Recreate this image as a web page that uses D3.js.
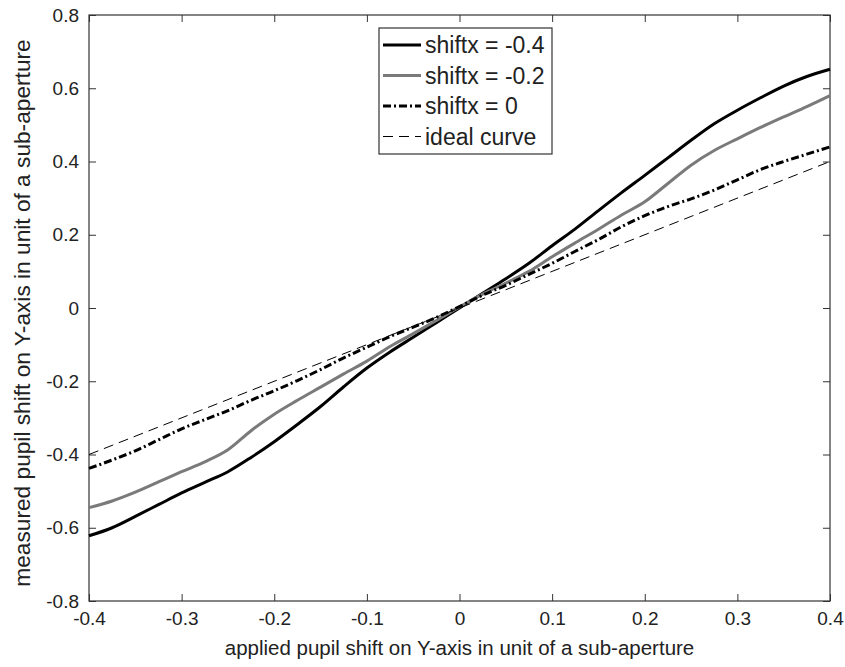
<!DOCTYPE html>
<html>
<head>
<meta charset="utf-8">
<script src="https://cdn.jsdelivr.net/npm/d3@7"></script>
<style>
  body { margin: 0; background: #fff; }
  text { font-family: "Liberation Sans", Arial, sans-serif; fill: #222; }
</style>
</head>
<body>
<div id="chart"></div>
<script>
// data
var xValues = [-0.4, -0.375, -0.35, -0.325, -0.3, -0.275, -0.25, -0.225, -0.2, -0.175, -0.15, -0.125, -0.1, -0.075, -0.05, -0.025,
  0, 0.025, 0.05, 0.075, 0.1, 0.125, 0.15, 0.175, 0.2, 0.225, 0.25, 0.275, 0.3, 0.325, 0.35, 0.375, 0.4];
var shiftNeg04 = [-0.622, -0.6, -0.569, -0.537, -0.505, -0.476, -0.447, -0.408, -0.365, -0.318, -0.269, -0.215, -0.164, -0.12, -0.08, -0.04,
  0.0, 0.04, 0.08, 0.122, 0.17, 0.216, 0.266, 0.315, 0.362, 0.41, 0.458, 0.503, 0.54, 0.574, 0.606, 0.632, 0.652];
var shiftNeg02 = [-0.545, -0.527, -0.503, -0.475, -0.447, -0.42, -0.387, -0.335, -0.29, -0.252, -0.216, -0.18, -0.145, -0.105, -0.07, -0.034,
  0.003, 0.038, 0.068, 0.1, 0.14, 0.178, 0.215, 0.254, 0.29, 0.34, 0.39, 0.43, 0.462, 0.493, 0.522, 0.55, 0.58];
var shift0 = [-0.438, -0.415, -0.39, -0.36, -0.33, -0.305, -0.28, -0.252, -0.226, -0.198, -0.168, -0.136, -0.107, -0.078, -0.052, -0.026,
  0.004, 0.035, 0.062, 0.092, 0.122, 0.155, 0.187, 0.222, 0.252, 0.277, 0.298, 0.322, 0.35, 0.378, 0.4, 0.42, 0.44];
var idealX = [-0.4, 0.4];
var idealY = [-0.4, 0.4];

var xTicks = [-0.4, -0.3, -0.2, -0.1, 0, 0.1, 0.2, 0.3, 0.4];
var yTicks = [-0.8, -0.6, -0.4, -0.2, 0, 0.2, 0.4, 0.6, 0.8];
var legendLabels = ["shiftx = -0.4", "shiftx = -0.2", "shiftx = 0", "ideal curve"];

// dimensions and margins of graph
var margin = {top: 15, right: 15, bottom: 66, left: 89},
    width = 845 - margin.left - margin.right,
    height = 667 - margin.top - margin.bottom;

var svg = d3.select("#chart")
  .append("svg")
    .attr("width", width + margin.left + margin.right)
    .attr("height", height + margin.top + margin.bottom)
  .append("g")
    .attr("transform", "translate(" + margin.left + "," + margin.top + ")");

var x = d3.scaleLinear().domain([-0.4, 0.4]).range([0, width]);
var y = d3.scaleLinear().domain([-0.8, 0.8]).range([height, 0]);

// plain hyphen for negatives, "0" without decimals
var fmt = function(d) { return d === 0 ? "0" : d3.format(".1f")(d).replace("\u2212", "-"); };

// axes, ticks pointing inward like matlab
svg.append("g")
    .attr("transform", "translate(0," + height + ")")
    .call(d3.axisBottom(x).tickValues(xTicks).tickFormat(fmt).tickSizeInner(-7).tickSizeOuter(0).tickPadding(11));
svg.append("g")
    .call(d3.axisLeft(y).tickValues(yTicks).tickFormat(fmt).tickSizeInner(-7).tickSizeOuter(0).tickPadding(10));
svg.append("g")
    .call(d3.axisTop(x).tickValues(xTicks).tickFormat("").tickSizeInner(-7).tickSizeOuter(0));
svg.append("g")
    .attr("transform", "translate(" + width + ",0)")
    .call(d3.axisRight(y).tickValues(yTicks).tickFormat("").tickSizeInner(-7).tickSizeOuter(0));

svg.selectAll(".domain").remove();
svg.selectAll(".tick line").attr("stroke", "#333");
svg.selectAll(".tick text").attr("font-size", "19px").style("fill", "#222");

// box around the plot
svg.append("rect")
    .attr("width", width).attr("height", height)
    .attr("fill", "none").attr("stroke", "#333").attr("stroke-width", 1.2);

// axis labels
svg.append("text")
    .attr("x", width / 2)
    .attr("y", height + 54)
    .attr("font-size", "20.5px")
    .style("text-anchor", "middle")
    .text("applied pupil shift on Y-axis in unit of a sub-aperture");

svg.append("text")
    .attr("transform", "rotate(-90)")
    .attr("x", 0 - (313 - margin.top))
    .attr("y", 30 - margin.left)
    .attr("font-size", "22.7px")
    .style("text-anchor", "middle")
    .text("measured pupil shift on Y-axis in unit of a sub-aperture");

// series
var series = [
  {xs: xValues, ys: shiftNeg04, color: "#000", width: 3, dash: null},
  {xs: xValues, ys: shiftNeg02, color: "#7a7a7a", width: 3, dash: null},
  {xs: xValues, ys: shift0, color: "#000", width: 3, dash: "8,3,2,3"},
  {xs: idealX, ys: idealY, color: "#000", width: 1, dash: "10,6"}
];

var line = d3.line()
    .x(function(d) { return x(d[0]); })
    .y(function(d) { return y(d[1]); })
    .curve(d3.curveMonotoneX);

series.forEach(function(s) {
  var pts = s.xs.map(function(v, i) { return [v, s.ys[i]]; });
  svg.append("path")
      .datum(pts)
      .attr("fill", "none")
      .attr("stroke", s.color)
      .attr("stroke-width", s.width)
      .attr("stroke-dasharray", s.dash)
      .attr("d", line);
});

// legend
var legend = svg.append("g")
    .attr("transform", "translate(" + (379 - margin.left) + "," + (28 - margin.top) + ")");
legend.append("rect")
    .attr("width", 173).attr("height", 126)
    .attr("fill", "#fff").attr("stroke", "#333").attr("stroke-width", 1.2);

var rows = legend.selectAll(".lineLegend").data(legendLabels)
    .enter().append("g")
    .attr("class", "lineLegend")
    .attr("transform", function(d, i) { return "translate(0," + (17 + i * 30.5) + ")"; });

rows.append("line")
    .attr("x1", 4).attr("x2", 42)
    .attr("stroke", function(d, i) { return series[i].color; })
    .attr("stroke-width", function(d, i) { return series[i].width; })
    .attr("stroke-dasharray", function(d, i) { return series[i].dash; });

rows.append("text")
    .attr("x", 46)
    .attr("dy", "0.35em")
    .attr("font-size", "23px")
    .text(function(d) { return d; });
</script>
</body>
</html>
